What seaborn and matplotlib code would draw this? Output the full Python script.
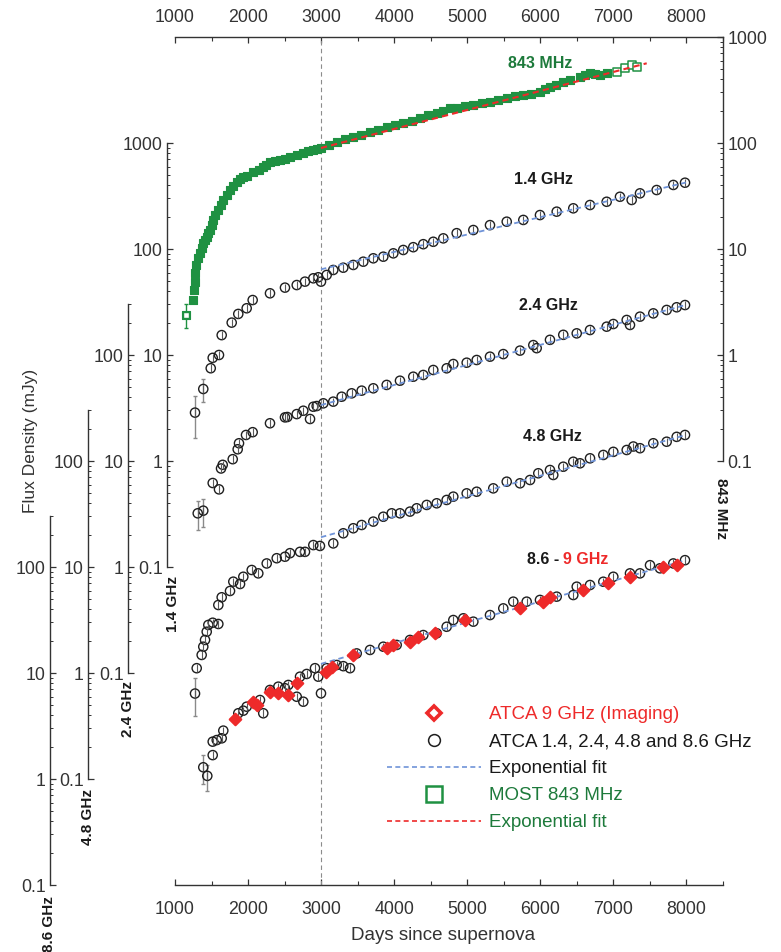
import seaborn as sns
import numpy as np
import pandas as pd
import matplotlib
matplotlib.use('Agg')
import matplotlib.pyplot as plt
from matplotlib.ticker import FixedLocator, FuncFormatter, NullFormatter
from matplotlib.lines import Line2D

sns.set_style('ticks')
plt.rcParams['font.family'] = ['Liberation Sans', 'DejaVu Sans']

#############################################################################
# data (days since SN, flux density in mJy)
#############################################################################
# MOST 843 MHz (right axis)
most_days = [1146, 1250, 1260, 1267, 1274, 1287, 1315, 1342, 1363, 1387, 1411, 1434,
             1458, 1479, 1500, 1524, 1554, 1593, 1623, 1661, 1705, 1753, 1794, 1844,
             1890, 1935, 1979, 2072, 2143, 2208, 2252, 2300, 2369, 2437, 2505, 2574,
             2663, 2756, 2820, 2893, 2943, 2998, 3108, 3213, 3327, 3440, 3552, 3669,
             3778, 3897, 4011, 4124, 4237, 4353, 4463, 4582, 4668, 4764, 4855, 4969,
             5083, 5195, 5311, 5421, 5540, 5653, 5767, 5879, 5995, 6064, 6132, 6221,
             6314, 6406, 6543, 6611, 6680, 6748, 6817, 6908]
most_flux = [2.4, 3.3, 4.1, 4.9, 5.9, 7.1, 8.2, 9.2, 10.2, 11.4, 12.2, 13.0,
             14.2, 15.1, 16.8, 18.8, 20.9, 23.3, 26.0, 29.0, 32.3, 36.0, 39.3, 42.9,
             45.3, 47.8, 48.9, 53.3, 55.1, 59.4, 61.4, 66.2, 67.6, 69.2, 71.4, 73.8,
             77.1, 80.5, 83.2, 85.9, 87.8, 89.7, 95.7, 102, 108, 114, 120, 127,
             134, 142, 148, 155, 163, 172, 182, 192, 200, 214, 214, 221,
             228, 236, 244, 255, 266, 275, 284, 293, 303, 320, 337, 356,
             376, 393, 419, 438, 457, 448, 438, 457]
most_open_days = [7045, 7159, 7250, 7319]
most_open_flux = [468, 510, 545, 521]
most_err = [0.6]
most_fit_days = [2998, 7456]
most_fit_flux = [89.7, 565]

# ATCA 1.4 GHz
d14 = [1274, 1387, 1489, 1516, 1602, 1639, 1776, 1866, 1981, 2063, 2300, 2505,
       2666, 2779, 2893, 2961, 2998, 3076, 3166, 3303, 3440, 3577, 3714, 3851,
       3988, 4124, 4261, 4398, 4535, 4672, 4855, 5083, 5311, 5540, 5767, 5995,
       6224, 6451, 6680, 6908, 7090, 7250, 7364, 7592, 7820, 7980]
f14 = [2.86, 4.78, 7.5, 9.4, 10.0, 15.4, 20.2, 24.4, 27.6, 33.0, 38.2, 43.2,
       45.7, 49.2, 52.9, 54.1, 49.2, 56.9, 63.4, 66.6, 70.7, 75.9, 81.7, 84.6,
       91.0, 97.9, 104, 111, 117, 126, 141, 151, 168, 181, 188, 209,
       225, 242, 260, 279, 311, 290, 335, 360, 402, 422]
e14 = [1.2, 1.2]
fit14_days = [2998, 7993]
fit14_flux = [64.3, 424]

# ATCA 2.4 GHz
d24 = [1311, 1387, 1516, 1602, 1630, 1653, 1790, 1858, 1876, 1972, 2063, 2300,
       2505, 2537, 2666, 2756, 2848, 2893, 2939, 3030, 3166, 3281, 3418, 3555,
       3714, 3897, 4079, 4261, 4398, 4535, 4718, 4809, 4992, 5129, 5311, 5493,
       5722, 5904, 5950, 6132, 6314, 6498, 6680, 6908, 6999, 7182, 7227, 7364,
       7546, 7729, 7866, 7980]
f24 = [3.21, 3.40, 6.2, 5.4, 8.5, 9.2, 10.4, 12.9, 14.7, 17.6, 18.7, 22.7,
       25.8, 26.0, 27.7, 29.8, 24.9, 32.5, 33.0, 35.0, 36.3, 40.4, 43.5, 46.1,
       48.5, 52.2, 57.2, 62.4, 64.8, 72.2, 74.9, 82.2, 84.6, 89.7, 96.4, 102,
       110, 124, 116, 139, 155, 160, 172, 185, 196, 214, 192, 230,
       247, 266, 282, 296]
e24 = [1.0, 1.0]
fit24_days = [2998, 7993]
fit24_flux = [33.7, 297]

# ATCA 4.8 GHz
d48 = [1274, 1297, 1365, 1387, 1411, 1434, 1456, 1516, 1593, 1593, 1639, 1753,
       1798, 1890, 1935, 2050, 2140, 2255, 2392, 2505, 2574, 2711, 2779, 2893,
       2984, 3166, 3303, 3440, 3555, 3714, 3851, 3966, 4079, 4216, 4308, 4445,
       4582, 4718, 4809, 4992, 5129, 5356, 5540, 5722, 5859, 5972, 6132, 6177,
       6314, 6451, 6543, 6680, 6862, 6999, 7182, 7273, 7364, 7546, 7729, 7866, 7980]
f48 = [0.64, 1.11, 1.48, 1.77, 2.05, 2.45, 2.84, 2.98, 2.90, 4.38, 5.18, 5.94,
       7.27, 6.91, 8.09, 9.37, 8.71, 10.8, 12.1, 12.5, 13.5, 13.9, 13.9, 16.1,
       15.8, 16.7, 20.8, 23.2, 24.9, 26.8, 29.8, 32.1, 32.1, 33.3, 35.8, 38.5,
       39.9, 42.9, 46.1, 49.5, 51.3, 55.2, 63.8, 61.6, 66.2, 76.6, 82.2, 73.8,
       88.3, 98.4, 95.1, 106, 114, 122, 127, 137, 132, 147, 152, 169, 176]
e48 = [0.25]
fit48_days = [2998, 7993]
fit48_flux = [19.1, 176]

# ATCA 8.6 GHz
d86 = [1387, 1442, 1516, 1516, 1571, 1639, 1661, 1866, 1935, 1981, 2163, 2208,
       2300, 2414, 2505, 2551, 2666, 2756, 2711, 2802, 2916, 2961, 2998, 3076,
       3213, 3303, 3395, 3487, 3669, 3851, 4034, 4216, 4398, 4582, 4718, 4809,
       4946, 5083, 5311, 5493, 5630, 5813, 5995, 6224, 6451, 6498, 6680, 6862,
       6999, 7227, 7364, 7501, 7638, 7820, 7980]
f86 = [1.29, 1.07, 1.68, 2.25, 2.33, 2.42, 2.86, 4.17, 4.41, 4.81, 5.56, 4.17,
       6.92, 7.43, 7.18, 7.71, 5.97, 5.36, 9.23, 9.79, 11.1, 9.23, 6.43, 11.1,
       11.9, 11.6, 11.1, 15.3, 16.5, 17.7, 18.4, 20.5, 22.8, 23.7, 27.3, 31.6,
       32.8, 30.5, 35.2, 40.7, 47.1, 47.1, 48.9, 52.5, 54.4, 65.2, 67.6, 72.6,
       80.9, 87.1, 87.1, 104, 97.2, 108, 116]
e86 = [0.4, 0.3]
fit86_days = [2998, 7993]
fit86_flux = [12.2, 116]

# ATCA 9 GHz imaging (same axis as 8.6 GHz)
d9 = [1821, 2072, 2126, 2300, 2414, 2551, 2666, 3067, 3145, 3440, 3897, 3988,
      4216, 4330, 4558, 4969, 5722, 6040, 6132, 6588, 6930, 7227, 7683, 7866]
f9 = [3.66, 5.36, 4.99, 6.58, 6.52, 6.20, 8.0, 10.3, 11.5, 14.8, 17.1, 18.4,
      19.7, 22.0, 23.7, 31.6, 40.7, 47.1, 52.5, 60.7, 70.2, 80.9, 101, 104]

#############################################################################
# layout
#############################################################################
W, H = 781, 952
L, R, T, B = 175, 723, 37, 885
rect = [L / W, 1 - B / H, (R - L) / W, (B - T) / H]

GREEN = '#1f9142'
GREEN_TXT = '#1d7a3b'
RED = '#ee2a2a'
BLUE = '#6f93d8'
INK = '#333333'
TICK_FS = 12.8

fig = plt.figure(figsize=(W / 100, H / 100), dpi=100)


def log_axis(ax, lims, top, side, pos=None):
    ax.set_yscale('log')
    ax.set_ylim(*lims)
    ax.set_xlim(1000, 8500)
    majors = [m for m in [0.1, 1, 10, 100, 1000] if m <= top]
    minors = [k * m for m in [0.1, 1, 10, 100] for k in range(2, 10) if k * m <= top]
    ax.yaxis.set_major_locator(FixedLocator(majors))
    ax.yaxis.set_minor_locator(FixedLocator(minors))
    ax.yaxis.set_major_formatter(FuncFormatter(lambda v, p: f'{v:g}'))
    ax.yaxis.set_minor_formatter(NullFormatter())
    for s in ['left', 'right']:
        ax.spines[s].set_visible(s == side)
    sp = ax.spines[side]
    sp.set_bounds(0.1, top)
    sp.set_color(INK)
    sp.set_linewidth(1.0)
    if pos is not None:
        sp.set_position(('axes', pos))
    ax.yaxis.set_ticks_position(side)
    ax.tick_params(axis='y', which='major', direction='in', length=4, width=0.9,
                   labelsize=TICK_FS, pad=3, color=INK, labelcolor=INK)
    ax.tick_params(axis='y', which='minor', direction='in', length=2.3, width=0.7, color=INK)
    ax.set_xlabel('')
    ax.set_ylabel('')


def x_ticks(axis_obj):
    axis_obj.set_major_locator(FixedLocator(np.arange(1000, 8001, 1000)))
    axis_obj.set_minor_locator(FixedLocator(np.arange(1500, 8501, 1000)))
    axis_obj.set_major_formatter(FuncFormatter(lambda v, p: f'{v:.0f}'))


# main axes: bottom x axis and the right axis for 843 MHz
main = fig.add_axes(rect)
main.patch.set_visible(False)
log_axis(main, (1e-5, 1e3), 1000, 'right')
main.spines['top'].set_visible(False)
main.spines['bottom'].set_visible(True)
main.spines['bottom'].set_color(INK)
main.spines['bottom'].set_linewidth(1.0)
x_ticks(main.xaxis)
main.tick_params(axis='x', which='both', top=False, bottom=True, labeltop=False,
                 labelbottom=True, direction='in', color=INK, labelcolor=INK)
main.tick_params(axis='x', which='major', length=4, width=0.9, labelsize=TICK_FS, pad=11.5)
main.tick_params(axis='x', which='minor', length=2.8, width=0.8)
main.axvline(3000, color='#8c8c8c', lw=0.8, ls=(0, (4, 3)), zorder=1)

# top x axis
topx = main.secondary_xaxis('top')
x_ticks(topx.xaxis)
topx.spines['top'].set_color(INK)
topx.spines['top'].set_linewidth(1.0)
topx.tick_params(axis='x', which='both', direction='in', color=INK, labelcolor=INK)
topx.tick_params(axis='x', which='major', length=4, width=0.9, labelsize=TICK_FS, pad=8)
topx.tick_params(axis='x', which='minor', length=2.8, width=0.8)

# left axes, offset outward
axA = fig.add_axes(rect)
axB = fig.add_axes(rect)
axC = fig.add_axes(rect)
axD = fig.add_axes(rect)
left_axes = [(axA, (1e-4, 1e4), 1000, 167), (axB, (1e-3, 1e5), 300, 128),
             (axC, (1e-2, 1e6), 300, 88), (axD, (1e-1, 1e7), 300, 50)]
for ax, lims, top, xpix in left_axes:
    ax.patch.set_visible(False)
    log_axis(ax, lims, top, 'left', (xpix - L) / (R - L))
    for s in ['top', 'bottom']:
        ax.spines[s].set_visible(False)
    ax.tick_params(axis='x', which='both', bottom=False, top=False,
                   labelbottom=False, labeltop=False)

#############################################################################
# data marks
#############################################################################
def atca(ax, days, flux, err, fit_days, fit_flux):
    n = len(err)
    ax.errorbar(days[:n], flux[:n], yerr=err, fmt='none', ecolor='#8a8a8a',
                elinewidth=1.0, capsize=1.5, zorder=2)
    sns.lineplot(x=fit_days, y=fit_flux, ax=ax, color=BLUE, lw=1.3,
                 linestyle=(0, (3, 2)), zorder=4)
    sns.scatterplot(x=days, y=flux, ax=ax, marker='o', s=44, facecolor='none',
                    edgecolor='#1e1e1e', linewidth=1.0, zorder=3)
    ax.plot(days, flux, ls='none', marker='|', ms=5.5, mew=0.8, color='#5a5a5a', zorder=3)
    ax.set_xlabel('')
    ax.set_ylabel('')


atca(axA, d14, f14, e14, fit14_days, fit14_flux)
atca(axB, d24, f24, e24, fit24_days, fit24_flux)
atca(axC, d48, f48, e48, fit48_days, fit48_flux)
atca(axD, d86, f86, e86, fit86_days, fit86_flux)
sns.scatterplot(x=d9, y=f9, ax=axD, marker='D', s=34, facecolor=RED,
                edgecolor=RED, linewidth=1.6, zorder=5)
axD.set_xlabel('')
axD.set_ylabel('')

# MOST 843 MHz on the right axis
main.errorbar(most_days[:1], most_flux[:1], yerr=most_err, fmt='none', ecolor=GREEN,
              elinewidth=1.0, capsize=1.5, zorder=2)
sns.scatterplot(x=most_days, y=most_flux, ax=main, marker='s', s=40, color=GREEN,
                edgecolor=GREEN, linewidth=0.8, zorder=3)
sns.scatterplot(x=most_open_days, y=most_open_flux, ax=main, marker='s', s=30,
                facecolor='white', edgecolor=GREEN, linewidth=1.1, zorder=3)
main.scatter(most_days[:1], most_flux[:1], marker='s', s=22, facecolor='white',
             edgecolor=GREEN, linewidth=1.0, zorder=4)
sns.lineplot(x=most_fit_days, y=most_fit_flux, ax=main, color=RED, lw=1.5,
             linestyle=(0, (3, 2)), zorder=4)
main.set_xlabel('')
main.set_ylabel('')

#############################################################################
# text
#############################################################################
def ftext(x, y, s, **kw):
    fig.text(x / W, 1 - y / H, s, **kw)


lab = dict(fontsize=11.5, fontweight='bold', ha='center', va='center')
ftext(540, 64, '843 MHz', color=GREEN_TXT, **lab)
ftext(544, 179, '1.4 GHz', color='#1a1a1a', **lab)
ftext(548, 306, '2.4 GHz', color='#1a1a1a', **lab)
ftext(552, 437, '4.8 GHz', color='#1a1a1a', **lab)
ftext(527, 559, '8.6 -', color='#1a1a1a', fontsize=11.5, fontweight='bold',
      ha='left', va='center')
ftext(563, 559, '9 GHz', color=RED, fontsize=11.5, fontweight='bold',
      ha='left', va='center')

rot = dict(fontsize=11, fontweight='bold', ha='center', va='center', color='#1a1a1a')
ftext(173, 604, '1.4 GHz', rotation=90, **rot)
ftext(128, 709, '2.4 GHz', rotation=90, **rot)
ftext(88, 817, '4.8 GHz', rotation=90, **rot)
ftext(49, 924, '8.6 GHz', rotation=90, **rot)
ftext(721, 508, '843 MHz', rotation=270, **rot)

ftext(31, 441, 'Flux Density (mJy)', rotation=90, fontsize=12.5, color=INK,
      ha='center', va='center')
ftext(443, 936, 'Days since supernova', fontsize=13.5, color=INK,
      ha='center', va='center')

# legend
handles = [
    Line2D([], [], ls='none', marker='D', ms=7.6, mfc='white', mec=RED, mew=2.6),
    Line2D([], [], ls='none', marker='o', ms=8.5, mfc='none', mec='#1e1e1e', mew=1.1),
    Line2D([], [], color=BLUE, lw=1.2, ls=(0, (3, 2))),
    Line2D([], [], ls='none', marker='s', ms=11.5, mfc='none', mec=GREEN, mew=1.8),
    Line2D([], [], color=RED, lw=1.2, ls=(0, (3, 2))),
]
labels = ['ATCA 9 GHz (Imaging)', 'ATCA 1.4, 2.4, 4.8 and 8.6 GHz',
          'Exponential fit', 'MOST 843 MHz', 'Exponential fit']
fig.legend(handles, labels, loc='upper left', bbox_to_anchor=(387 / W, 1 - 706 / H),
           frameon=False, fontsize=13.5, handlelength=5.0, handletextpad=0.45,
           labelspacing=0.53, borderpad=0, borderaxespad=0,
           labelcolor=[RED, '#1a1a1a', '#1a1a1a', GREEN_TXT, GREEN_TXT])

plt.savefig('out.png', dpi=100)
